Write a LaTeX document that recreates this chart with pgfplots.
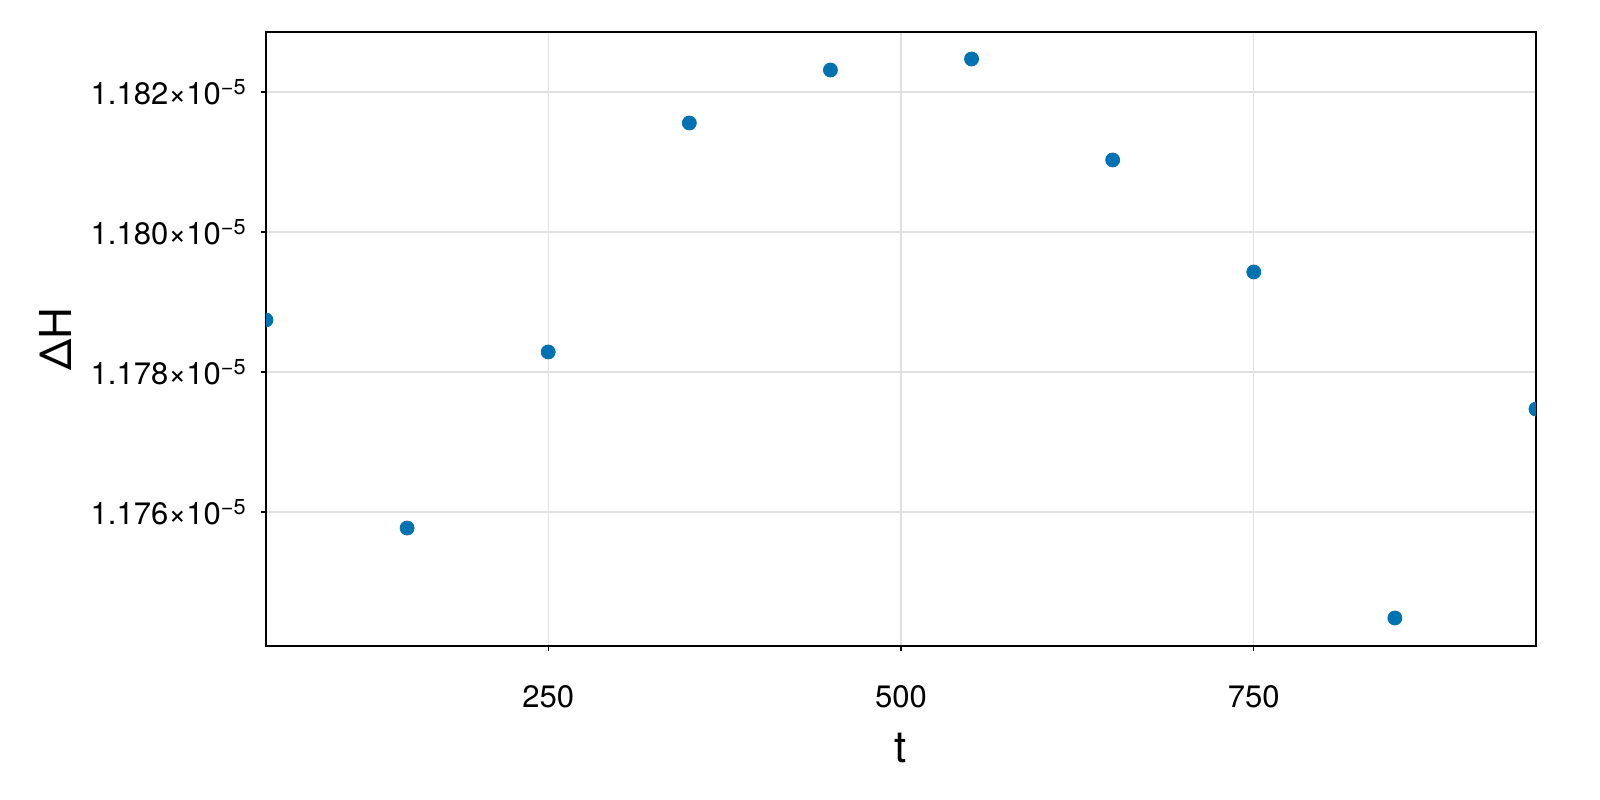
\documentclass[border=0pt]{standalone}
\usepackage{fontspec}
\setmainfont{TeX Gyre Heros}
\usepackage{pgfplots}
\pgfplotsset{compat=1.18}
\definecolor{wongblue}{RGB}{0,114,178}
\begin{document}
\begin{tikzpicture}
\path[use as bounding box] (0,0) rectangle (800bp,400bp);
\begin{pgfinterruptboundingbox}
\begin{axis}[
  at={(133bp,77bp)}, anchor=south west,
  scale only axis,
  width=635bp, height=307bp,
  xmin=50, xmax=950,
  ymin=1.174086e-5, ymax=1.182857e-5,
  xtick={250,500,750},
  ytick={1.176e-5,1.178e-5,1.180e-5,1.182e-5},
  yticklabels={1.176×10\textsuperscript{−5},1.178×10\textsuperscript{−5},1.180×10\textsuperscript{−5},1.182×10\textsuperscript{−5}},
  scaled y ticks=false,
  /pgf/number format/assume math mode=true,
  tick label style={font=\fontsize{15.5bp}{18bp}\selectfont},
  xticklabel style={anchor=base, inner sep=0pt, yshift=-28bp},
  yticklabel style={anchor=east, inner sep=0pt, xshift=-7bp},
  tick align=outside, major tick length=2.5bp,
  tick style={black, line width=0.6bp},
  axis line style={line width=0.75bp},
  xtick pos=bottom, ytick pos=left,
  grid=major,
  major grid style={black!12, line width=0.6bp},
  xlabel={t}, ylabel={ΔH},
  label style={font=\fontsize{22bp}{26bp}\selectfont},
  xlabel style={at={(rel axis cs:0.5,0)}, anchor=base, yshift=-58bp},
  ylabel style={at={(rel axis cs:0,0.5)}, anchor=center, yshift=105.5bp},
  clip marker paths=true,
]
\addplot[only marks, mark=*, mark size=3.5bp, wongblue, mark options={draw=wongblue, fill=wongblue}]
  coordinates{
    (50,1.178743e-5)
    (150,1.175771e-5)
    (250,1.178286e-5)
    (350,1.181557e-5)
    (450,1.182314e-5)
    (550,1.182471e-5)
    (650,1.181029e-5)
    (750,1.179429e-5)
    (850,1.174486e-5)
    (950,1.177471e-5)
  };
\end{axis}
\end{pgfinterruptboundingbox}
\end{tikzpicture}
\end{document}
